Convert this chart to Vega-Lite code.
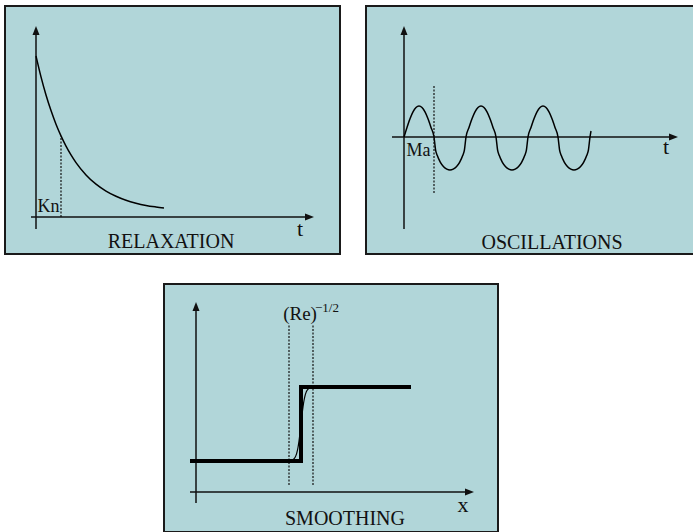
{
  "$schema": "https://vega.github.io/schema/vega-lite/v6.json",
  "padding": {"left": 4, "top": 5, "right": 0, "bottom": 0},
  "background": "white",
  "config": {
    "font": "Liberation Serif",
    "view": {"fill": "#b1d6d9", "stroke": "#1a1a1a", "strokeWidth": 2},
    "text": {"font": "Liberation Serif", "fill": "#111", "baseline": "alphabetic", "align": "center"}
  },
  "vconcat": [
    {
      "hconcat": [
        {
          "width": 335, "height": 248,
          "encoding": {
            "x": {"field": "x", "type": "quantitative", "scale": {"domain": [-3.1, 30.4], "nice": false, "zero": false}, "axis": null},
            "y": {"field": "y", "type": "quantitative", "scale": {"domain": [-3.7, 21.1], "nice": false, "zero": false}, "axis": null}
          },
          "layer": [
            {
              "data": {"values": [{"x": 0, "y": -1.2, "x2": 0, "y2": 18.6}, {"x": -0.5, "y": 0, "x2": 27.3, "y2": 0}]},
              "mark": {"type": "rule", "stroke": "#111", "strokeWidth": 1.5},
              "encoding": {"x2": {"field": "x2"}, "y2": {"field": "y2"}}
            },
            {
              "data": {"values": [{"x": 0, "y": 18.6}]},
              "mark": {"type": "point", "shape": "M0,-1L0.7,0.8L-0.7,0.8Z", "size": 100, "filled": true, "fill": "#111", "opacity": 1}
            },
            {
              "data": {"values": [{"x": 27.3, "y": 0}]},
              "mark": {"type": "point", "shape": "M1,0L-0.8,0.7L-0.8,-0.7Z", "size": 100, "filled": true, "fill": "#111", "opacity": 1}
            },
            {
              "data": {"values": [
                {"x": 0, "y": 16.1}, {"x": 0.5, "y": 14.01}, {"x": 1, "y": 12.2}, {"x": 1.5, "y": 10.64},
                {"x": 2, "y": 9.28}, {"x": 2.5, "y": 8.11}, {"x": 3, "y": 7.09}, {"x": 3.5, "y": 6.21},
                {"x": 4, "y": 5.44}, {"x": 5, "y": 4.21}, {"x": 6, "y": 3.28}, {"x": 7, "y": 2.59},
                {"x": 8, "y": 2.07}, {"x": 9, "y": 1.67}, {"x": 10, "y": 1.38}, {"x": 11, "y": 1.16},
                {"x": 12, "y": 1.0}, {"x": 12.8, "y": 0.89}
              ]},
              "mark": {"type": "line", "stroke": "#000", "strokeWidth": 1.5, "interpolate": "monotone"}
            },
            {
              "data": {"values": [{"x": 2.5, "y": 0, "x2": 2.5, "y2": 8.11}]},
              "mark": {"type": "rule", "stroke": "#111", "strokeWidth": 1.2, "strokeDash": [2, 1.5]},
              "encoding": {"x2": {"field": "x2"}, "y2": {"field": "y2"}}
            },
            {
              "data": {"values": [{"x": 1.25, "y": 0.5, "label": "Kn"}]},
              "mark": {"type": "text", "fontSize": 18, "font": "Liberation Serif"},
              "encoding": {"text": {"field": "label"}}
            },
            {
              "data": {"values": [{"x": 26.4, "y": -1.9, "label": "t"}]},
              "mark": {"type": "text", "fontSize": 22, "font": "Liberation Serif"},
              "encoding": {"text": {"field": "label"}}
            },
            {
              "data": {"values": [{"x": 13.5, "y": -3.05, "label": "RELAXATION"}]},
              "mark": {"type": "text", "fontSize": 20, "font": "Liberation Serif"},
              "encoding": {"text": {"field": "label"}}
            }
          ]
        },
        {
          "width": 330, "height": 248,
          "encoding": {
            "x": {"field": "x", "type": "quantitative", "scale": {"domain": [-3.8, 29.2], "nice": false, "zero": false}, "axis": null},
            "y": {"field": "y", "type": "quantitative", "scale": {"domain": [-11.7, 13.1], "nice": false, "zero": false}, "axis": null}
          },
          "layer": [
            {
              "data": {"values": [{"x": 0, "y": -9.2, "x2": 0, "y2": 10.6}, {"x": -1.2, "y": 0, "x2": 26.9, "y2": 0}]},
              "mark": {"type": "rule", "stroke": "#111", "strokeWidth": 1.5},
              "encoding": {"x2": {"field": "x2"}, "y2": {"field": "y2"}}
            },
            {
              "data": {"values": [{"x": 0, "y": 10.6}]},
              "mark": {"type": "point", "shape": "M0,-1L0.7,0.8L-0.7,0.8Z", "size": 100, "filled": true, "fill": "#111", "opacity": 1}
            },
            {
              "data": {"values": [{"x": 26.9, "y": 0}]},
              "mark": {"type": "point", "shape": "M1,0L-0.8,0.7L-0.8,-0.7Z", "size": 100, "filled": true, "fill": "#111", "opacity": 1}
            },
            {
              "data": {"values": [
                {"x": 0, "y": 0}, {"x": 0.3, "y": 0.958}, {"x": 0.6, "y": 1.822}, {"x": 0.9, "y": 2.508}, {"x": 1.2, "y": 2.948}, {"x": 1.5, "y": 3.1}, {"x": 1.8, "y": 2.948}, {"x": 2.1, "y": 2.508}, {"x": 2.4, "y": 1.822}, {"x": 2.7, "y": 0.958}, {"x": 3.0, "y": 0},
                {"x": 3.16, "y": -1.305}, {"x": 3.32, "y": -1.834}, {"x": 3.64, "y": -2.53}, {"x": 3.96, "y": -2.968}, {"x": 4.28, "y": -3.218}, {"x": 4.6, "y": -3.3}, {"x": 4.92, "y": -3.218}, {"x": 5.24, "y": -2.968}, {"x": 5.56, "y": -2.53}, {"x": 5.88, "y": -1.834}, {"x": 6.04, "y": -1.305}, {"x": 6.2, "y": 0},
                {"x": 6.5, "y": 0.958}, {"x": 6.8, "y": 1.822}, {"x": 7.1, "y": 2.508}, {"x": 7.4, "y": 2.948}, {"x": 7.7, "y": 3.1}, {"x": 8.0, "y": 2.948}, {"x": 8.3, "y": 2.508}, {"x": 8.6, "y": 1.822}, {"x": 8.9, "y": 0.958}, {"x": 9.2, "y": 0},
                {"x": 9.36, "y": -1.305}, {"x": 9.52, "y": -1.834}, {"x": 9.84, "y": -2.53}, {"x": 10.16, "y": -2.968}, {"x": 10.48, "y": -3.218}, {"x": 10.8, "y": -3.3}, {"x": 11.12, "y": -3.218}, {"x": 11.44, "y": -2.968}, {"x": 11.76, "y": -2.53}, {"x": 12.08, "y": -1.834}, {"x": 12.24, "y": -1.305}, {"x": 12.4, "y": 0},
                {"x": 12.7, "y": 0.958}, {"x": 13.0, "y": 1.822}, {"x": 13.3, "y": 2.508}, {"x": 13.6, "y": 2.948}, {"x": 13.9, "y": 3.1}, {"x": 14.2, "y": 2.948}, {"x": 14.5, "y": 2.508}, {"x": 14.8, "y": 1.822}, {"x": 15.1, "y": 0.958}, {"x": 15.4, "y": 0},
                {"x": 15.56, "y": -1.305}, {"x": 15.72, "y": -1.834}, {"x": 16.04, "y": -2.53}, {"x": 16.36, "y": -2.968}, {"x": 16.68, "y": -3.218}, {"x": 17.0, "y": -3.3}, {"x": 17.32, "y": -3.218}, {"x": 17.64, "y": -2.968}, {"x": 17.96, "y": -2.53}, {"x": 18.28, "y": -1.834}, {"x": 18.44, "y": -1.305}, {"x": 18.6, "y": 0}, {"x": 18.7, "y": 0.6}
              ]},
              "mark": {"type": "line", "stroke": "#000", "strokeWidth": 1.5, "interpolate": "monotone"}
            },
            {
              "data": {"values": [{"x": 3.0, "y": -5.6, "x2": 3.0, "y2": 5.1}]},
              "mark": {"type": "rule", "stroke": "#111", "strokeWidth": 1.2, "strokeDash": [2, 1.5]},
              "encoding": {"x2": {"field": "x2"}, "y2": {"field": "y2"}}
            },
            {
              "data": {"values": [{"x": 1.45, "y": -1.9, "label": "Ma"}]},
              "mark": {"type": "text", "fontSize": 18, "font": "Liberation Serif"},
              "encoding": {"text": {"field": "label"}}
            },
            {
              "data": {"values": [{"x": 26.2, "y": -1.7, "label": "t"}]},
              "mark": {"type": "text", "fontSize": 22, "font": "Liberation Serif"},
              "encoding": {"text": {"field": "label"}}
            },
            {
              "data": {"values": [{"x": 14.8, "y": -11.2, "label": "OSCILLATIONS"}]},
              "mark": {"type": "text", "fontSize": 20, "font": "Liberation Serif"},
              "encoding": {"text": {"field": "label"}}
            }
          ]
        }
      ],
      "spacing": 24
    },
    {
      "hconcat": [
        {
          "width": 132, "height": 248,
          "view": {"stroke": null, "fill": null},
          "data": {"values": []},
          "mark": {"type": "rule"},
          "encoding": {}
        },
        {
          "width": 334, "height": 248,
          "encoding": {
            "x": {"field": "x", "type": "quantitative", "scale": {"domain": [-3.2, 30.2], "nice": false, "zero": false}, "axis": null},
            "y": {"field": "y", "type": "quantitative", "scale": {"domain": [-4.0, 20.8], "nice": false, "zero": false}, "axis": null}
          },
          "layer": [
            {
              "data": {"values": [{"x": 0, "y": -1.1, "x2": 0, "y2": 18.5}, {"x": -0.6, "y": 0, "x2": 27.3, "y2": 0}]},
              "mark": {"type": "rule", "stroke": "#111", "strokeWidth": 1.5},
              "encoding": {"x2": {"field": "x2"}, "y2": {"field": "y2"}}
            },
            {
              "data": {"values": [{"x": 0, "y": 18.5}]},
              "mark": {"type": "point", "shape": "M0,-1L0.7,0.8L-0.7,0.8Z", "size": 100, "filled": true, "fill": "#111", "opacity": 1}
            },
            {
              "data": {"values": [{"x": 27.3, "y": 0}]},
              "mark": {"type": "point", "shape": "M1,0L-0.8,0.7L-0.8,-0.7Z", "size": 100, "filled": true, "fill": "#111", "opacity": 1}
            },
            {
              "data": {"values": [{"x": 9.3, "y": 0.7, "x2": 9.3, "y2": 16.7}, {"x": 11.7, "y": 0.7, "x2": 11.7, "y2": 16.7}]},
              "mark": {"type": "rule", "stroke": "#111", "strokeWidth": 1.2, "strokeDash": [2, 1.5]},
              "encoding": {"x2": {"field": "x2"}, "y2": {"field": "y2"}}
            },
            {
              "data": {"values": [
                {"x": 9.3, "y": 3.118}, {"x": 9.5, "y": 3.15}, {"x": 9.7, "y": 3.233}, {"x": 9.9, "y": 3.451}, {"x": 10.0, "y": 3.66},
                {"x": 10.1, "y": 3.982}, {"x": 10.2, "y": 4.45}, {"x": 10.3, "y": 5.09}, {"x": 10.4, "y": 5.894}, {"x": 10.5, "y": 6.8},
                {"x": 10.6, "y": 7.706}, {"x": 10.7, "y": 8.51}, {"x": 10.8, "y": 9.15}, {"x": 10.9, "y": 9.618}, {"x": 11.0, "y": 9.94},
                {"x": 11.1, "y": 10.149}, {"x": 11.3, "y": 10.367}, {"x": 11.5, "y": 10.45}, {"x": 11.7, "y": 10.482}
              ]},
              "mark": {"type": "line", "stroke": "#000", "strokeWidth": 1.2, "interpolate": "monotone"}
            },
            {
              "data": {"values": [
                {"i": 0, "x": -0.6, "y": 3.1}, {"i": 1, "x": 10.5, "y": 3.1}, {"i": 2, "x": 10.5, "y": 10.5}, {"i": 3, "x": 21.5, "y": 10.5}
              ]},
              "mark": {"type": "line", "stroke": "#000", "strokeWidth": 4, "strokeJoin": "miter"},
              "encoding": {"order": {"field": "i", "type": "quantitative"}}
            },
            {
              "data": {"values": [{"x": 10.4, "y": 17.2, "label": "(Re)"}]},
              "mark": {"type": "text", "fontSize": 19, "font": "Liberation Serif"},
              "encoding": {"text": {"field": "label"}}
            },
            {
              "data": {"values": [{"x": 13.1, "y": 18.0, "label": "−1/2"}]},
              "mark": {"type": "text", "fontSize": 13, "font": "Liberation Serif"},
              "encoding": {"text": {"field": "label"}}
            },
            {
              "data": {"values": [{"x": 26.7, "y": -2.0, "label": "x"}]},
              "mark": {"type": "text", "fontSize": 22, "font": "Liberation Serif"},
              "encoding": {"text": {"field": "label"}}
            },
            {
              "data": {"values": [{"x": 14.9, "y": -3.3, "label": "SMOOTHING"}]},
              "mark": {"type": "text", "fontSize": 20, "font": "Liberation Serif"},
              "encoding": {"text": {"field": "label"}}
            }
          ]
        }
      ],
      "spacing": 26
    }
  ],
  "spacing": 28
}
